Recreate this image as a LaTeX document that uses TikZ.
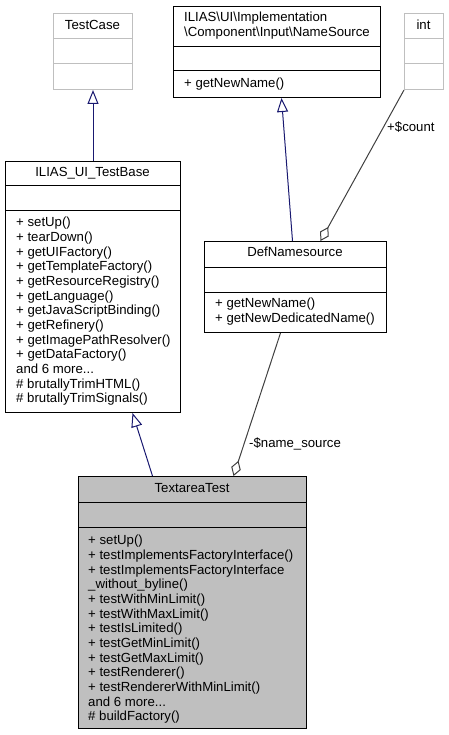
\documentclass[tikz,border=0pt]{standalone}
\usepackage{fontspec}
\setmainfont{Liberation Sans}
\usetikzlibrary{arrows.meta,calc}
\definecolor{inhcol}{HTML}{191970}
\definecolor{aggcol}{HTML}{404040}
\definecolor{greyb}{HTML}{BFBFBF}
\begin{document}
\begin{tikzpicture}[x=1pt,y=-1pt,
  every node/.style={font=\fontsize{13.2}{14.67}\selectfont, inner sep=0pt, text=black},
  classbox/.style={draw=black, line width=1pt, anchor=north west, inner sep=0pt, minimum width=#1},
  greybox/.style={classbox=#1, draw=greyb},
  divider/.style={line width=1pt},
  members/.style={align=left, anchor=north west},
  inh/.style={draw=inhcol, line width=1pt, -{Triangle[open, length=14pt, width=11pt, line width=1pt]}},
  agg/.style={draw=aggcol, line width=1pt, -{Diamond[open, length=16pt, width=10pt, line width=1pt]}},
  lbl/.style={anchor=base west}
]
\useasboundingbox (0,0) rectangle (448,735);

% TestCase
\node[greybox=79pt, minimum height=76pt] (tc) at (53,13) {};
\draw[divider, greyb] ($(tc.north west)+(0,26)$) -- ($(tc.north east)+(0,26)$);
\draw[divider, greyb] ($(tc.north west)+(0,51)$) -- ($(tc.north east)+(0,51)$);
\node[anchor=base] (tct) at (92.5,29.5) {TestCase};

% NameSource
\node[classbox=207pt, minimum height=91pt] (ns) at (173,6) {};
\draw[divider] ($(ns.north west)+(0,41)$) -- ($(ns.north east)+(0,41)$);
\draw[divider] ($(ns.north west)+(0,65)$) -- ($(ns.north east)+(0,65)$);
\node[members] (nst) at (184,11.2) {\strut ILIAS\textbackslash UI\textbackslash Implementation\\\textbackslash Component\textbackslash Input\textbackslash NameSource};
\node[lbl] (nsm) at (184,87.5) {+ getNewName()};

% int
\node[greybox=39pt, minimum height=76pt] (int) at (404,13) {};
\draw[divider, greyb] ($(int.north west)+(0,26)$) -- ($(int.north east)+(0,26)$);
\draw[divider, greyb] ($(int.north west)+(0,51)$) -- ($(int.north east)+(0,51)$);
\node[anchor=base] (intt) at (423.5,29.5) {int};

% ILIAS_UI_TestBase
\node[classbox=175pt, minimum height=251pt] (tb) at (5,161) {};
\draw[divider] ($(tb.north west)+(0,25)$) -- ($(tb.north east)+(0,25)$);
\draw[divider] ($(tb.north west)+(0,50)$) -- ($(tb.north east)+(0,50)$);
\node[anchor=base] (tbt) at (92.5,176.5) {ILIAS\_UI\_TestBase};
\node[members] (tbm) at (16,216.2) {\strut + setUp()\\+ tearDown()\\+ getUIFactory()\\+ getTemplateFactory()\\+ getResourceRegistry()\\+ getLanguage()\\+ getJavaScriptBinding()\\+ getRefinery()\\+ getImagePathResolver()\\+ getDataFactory()\\and 6 more...\\\# brutallyTrimHTML()\\\# brutallyTrimSignals()};

% DefNamesource
\node[classbox=182pt, minimum height=91pt] (def) at (204,241) {};
\draw[divider] ($(def.north west)+(0,26)$) -- ($(def.north east)+(0,26)$);
\draw[divider] ($(def.north west)+(0,51)$) -- ($(def.north east)+(0,51)$);
\node[anchor=base] (deft) at (295,256.5) {DefNamesource};
\node[members] (defm) at (215,297.2) {\strut + getNewName()\\+ getNewDedicatedName()};

% TextareaTest
\node[classbox=228pt, minimum height=252pt, fill=greyb] (ta) at (78,476) {};
\draw[divider] ($(ta.north west)+(0,26)$) -- ($(ta.north east)+(0,26)$);
\draw[divider] ($(ta.north west)+(0,51)$) -- ($(ta.north east)+(0,51)$);
\node[anchor=base] (tat) at (192,492.5) {TextareaTest};
\node[members] (tam) at (88,534.2) {\strut + setUp()\\+ testImplementsFactoryInterface()\\+ testImplementsFactoryInterface\\\_without\_byline()\\+ testWithMinLimit()\\+ testWithMaxLimit()\\+ testIsLimited()\\+ testGetMinLimit()\\+ testGetMaxLimit()\\+ testRenderer()\\+ testRendererWithMinLimit()\\and 6 more...\\\# buildFactory()};

% connectors
\draw[inh] (tb.north) -- (tc.south);
\draw[inh] ([xshift=-3pt]def.north) -- ([xshift=4.5pt]ns.south);
\draw[inh] ([xshift=-40pt]ta.north) -- ([xshift=39.5pt]tb.south);
\draw[agg] (int.south west) -- ([xshift=25pt]def.north);
\draw[agg] ([xshift=-15pt]def.south) -- ([xshift=41pt]ta.north);
\node[lbl] (lcount) at (387,132) {+\$count};
\node[lbl] (lname) at (249,447) {-\$name\_source};
\end{tikzpicture}
\end{document}
